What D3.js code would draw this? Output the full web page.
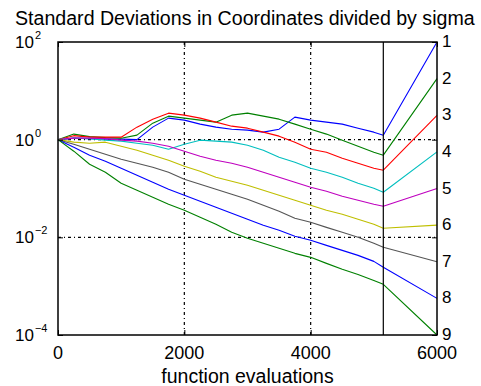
<!DOCTYPE html>
<html>
<head>
<meta charset="utf-8">
<script src="https://cdn.jsdelivr.net/npm/d3@7"></script>
<style>
  body { margin: 0; background: #fff; }
  svg { display: block; font-family: "Liberation Sans", Arial, sans-serif; }
</style>
</head>
<body>
<svg id="chart" width="481" height="386"></svg>
<script>
// function evaluations (common grid for every coordinate)
const evals = [0, 250, 500, 750, 1000, 1250, 1500, 1750, 2000, 2250, 2500, 2750,
  3000, 3250, 3500, 3750, 4000, 4250, 4500, 4750, 5000, 5150, 6000];

// std deviations divided by sigma, coordinates 1..9
const sd1 = [1, 1.073, 1.048, 1.024, 1.024, 1, 1.805, 2.76, 2.51, 2.08, 1.805, 1.64,
  1.567, 1.425, 1.64, 2.89, 2.51, 2.285, 2.08, 1.72, 1.425, 1.237, 100];
const sd2 = [1, 1.30, 1.152, 1.099, 1.073, 1.237, 2.18, 3.03, 2.76, 2.51, 2.285, 3.18,
  3.49, 3.03, 2.63, 2.08, 1.64, 1.30, 0.977, 0.736, 0.554, 0.481, 17.8];
const sd3 = [1, 1.208, 1.125, 1.125, 1.125, 1.805, 2.63, 3.49, 3.18, 2.76, 2.285, 1.89,
  1.72, 1.425, 1.18, 0.889, 0.638, 0.554, 0.418, 0.330, 0.260, 0.237, 3.16];
const sd4 = [1, 1.073, 1.048, 0.977, 0.932, 0.847, 0.771, 0.638, 0.809, 0.977, 0.932, 0.889,
  0.771, 0.609, 0.438, 0.346, 0.260, 0.215, 0.170, 0.128, 0.101, 0.0838, 0.562];
const sd5 = [1, 1.073, 1.073, 1.048, 0.977, 0.932, 0.847, 0.736, 0.581, 0.459, 0.380, 0.330,
  0.273, 0.215, 0.170, 0.134, 0.106, 0.0878, 0.0693, 0.0574, 0.0475, 0.0432, 0.1];
const sd6 = [1, 0.889, 0.847, 0.889, 0.736, 0.609, 0.481, 0.380, 0.286, 0.226, 0.170, 0.141,
  0.117, 0.0921, 0.0727, 0.0574, 0.0453, 0.0358, 0.0296, 0.0234, 0.0185, 0.0153, 0.0178];
const sd7 = [1, 0.809, 0.638, 0.504, 0.398, 0.330, 0.273, 0.215, 0.155, 0.122, 0.0965, 0.0762,
  0.0602, 0.0453, 0.0341, 0.0245, 0.0203, 0.0160, 0.0127, 0.0100, 0.00753, 0.00624, 0.00316];
const sd8 = [1, 0.702, 0.481, 0.362, 0.260, 0.187, 0.134, 0.0965, 0.0727, 0.0548, 0.0412, 0.0311,
  0.0234, 0.0176, 0.0139, 0.0105, 0.00868, 0.00685, 0.00541, 0.00427, 0.00322, 0.00243, 0.000562];
const sd9 = [1, 0.581, 0.314, 0.215, 0.128, 0.0921, 0.0662, 0.0475, 0.0358, 0.0257, 0.0185, 0.0127,
  0.00954, 0.00753, 0.00595, 0.00470, 0.00389, 0.00293, 0.00221, 0.00174, 0.00131, 0.00109, 0.0001];

const seriesNames = ['1', '2', '3', '4', '5', '6', '7', '8', '9'];
const seriesColors = ['#0000ff', '#008000', '#ff0000', '#00bfbf', '#bf00bf', '#bfbf00',
  '#555555', '#0000ff', '#008000'];

const lastEval = 5150;
const xTicks = [0, 2000, 4000, 6000];
const yTicks = [1e-4, 1e-2, 1e0, 1e2];
const yTickExp = ['\u22124', '\u22122', '0', '2'];
const xGrid = [2000, 4000];
const yGrid = [1e-2, 1e0];

const title = 'Standard Deviations in Coordinates divided by sigma';
const xLabel = 'function evaluations';

const series = [sd1, sd2, sd3, sd4, sd5, sd6, sd7, sd8, sd9];

// layout
var margin = {top: 42, right: 44, bottom: 51, left: 58},
    W = 481, H = 386,
    width = W - margin.left - margin.right,
    height = H - margin.top - margin.bottom;

var svg = d3.select('#chart');
var g = svg.append('g')
    .attr('transform', 'translate(' + margin.left + ',' + margin.top + ')');

var x = d3.scaleLinear().domain([0, 6000]).range([0, width]);
var y = d3.scaleLog().domain([1e-4, 1e2]).range([height, 0]);

// grid
g.selectAll('.vgrid').data(xGrid).enter().append('line')
    .attr('x1', d => x(d)).attr('x2', d => x(d))
    .attr('y1', 0).attr('y2', height)
    .attr('stroke', '#000').attr('stroke-width', 1.2)
    .attr('stroke-dasharray', '3,3,1,3');
g.selectAll('.hgrid').data(yGrid).enter().append('line')
    .attr('x1', 0).attr('x2', width)
    .attr('y1', d => y(d)).attr('y2', d => y(d))
    .attr('stroke', '#000').attr('stroke-width', 1.2)
    .attr('stroke-dasharray', '3,3,1,3');

// lines
var line = d3.line()
    .x((d, i) => x(evals[i]))
    .y(d => y(d));

g.selectAll('.sd').data(series).enter().append('path')
    .attr('fill', 'none')
    .attr('stroke', (d, i) => seriesColors[i])
    .attr('stroke-width', 1.1)
    .attr('stroke-linejoin', 'round')
    .attr('d', line);

// last iteration marker
g.append('line')
    .attr('x1', x(lastEval)).attr('x2', x(lastEval))
    .attr('y1', 0).attr('y2', height)
    .attr('stroke', '#000').attr('stroke-width', 1.2);

// axes with inward ticks
g.append('g').attr('transform', 'translate(0,' + height + ')')
    .call(d3.axisBottom(x).tickValues(xTicks).tickSize(-5).tickSizeOuter(0).tickFormat(''));
g.append('g')
    .call(d3.axisTop(x).tickValues(xTicks).tickSize(-5).tickSizeOuter(0).tickFormat(''));
g.append('g')
    .call(d3.axisLeft(y).tickValues(yTicks).tickSize(-5).tickSizeOuter(0).tickFormat(''));
g.append('g').attr('transform', 'translate(' + width + ',0)')
    .call(d3.axisRight(y).tickValues(yTicks).tickSize(-5).tickSizeOuter(0).tickFormat(''));
g.selectAll('.domain').remove();
g.selectAll('.tick line').attr('stroke', '#000');

// frame
g.append('rect')
    .attr('width', width).attr('height', height)
    .attr('fill', 'none').attr('stroke', '#000').attr('stroke-width', 1.5);

// x tick labels
g.selectAll('.xlab').data(xTicks).enter().append('text')
    .attr('x', d => x(d)).attr('y', height + 24)
    .attr('text-anchor', 'middle')
    .style('font-size', '18px')
    .text(d => d);

// y tick labels: 10 with superscript
var ylab = g.selectAll('.ylab').data(yTicks).enter().append('text')
    .attr('x', -43).attr('y', d => y(d) + 6)
    .style('font-size', '17px');
ylab.append('tspan').text('10');
ylab.append('tspan')
    .attr('dy', -9).attr('dx', 1)
    .style('font-size', '11px')
    .text((d, i) => yTickExp[i]);

// coordinate labels at right end
g.selectAll('.clab').data(series).enter().append('text')
    .attr('x', width + 5)
    .attr('y', d => y(d[d.length - 1]) + 5)
    .style('font-size', '17px')
    .text((d, i) => seriesNames[i]);

// title and x label
svg.append('text')
    .attr('x', 15).attr('y', 25)
    .style('font-size', '19.6px')
    .text(title);
svg.append('text')
    .attr('x', margin.left + width / 2).attr('y', 383)
    .attr('text-anchor', 'middle')
    .style('font-size', '19.5px')
    .text(xLabel);
</script>
</body>
</html>
